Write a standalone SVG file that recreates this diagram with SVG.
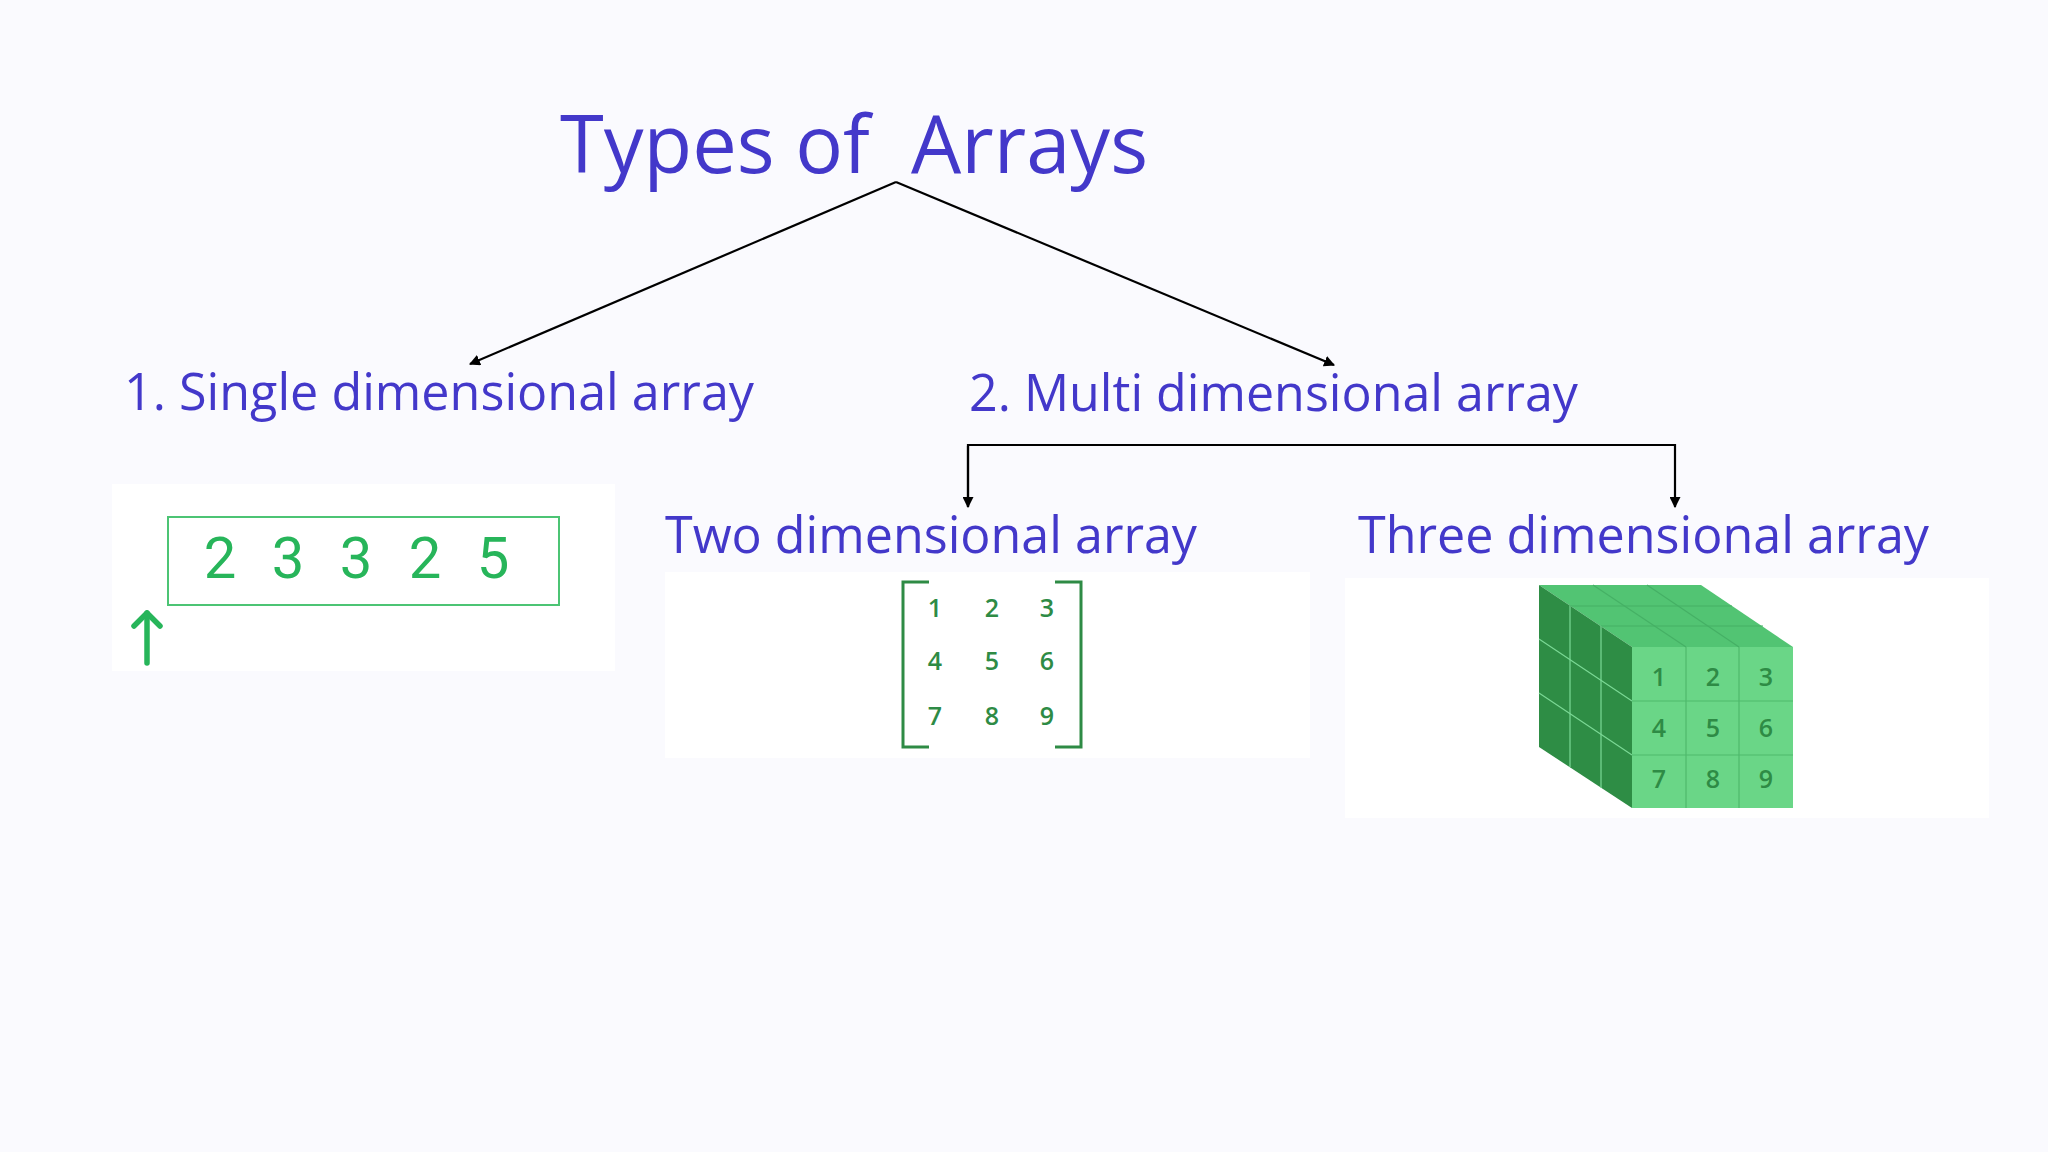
<svg xmlns="http://www.w3.org/2000/svg" width="2048" height="1152" viewBox="0 0 2048 1152">
  <defs>
    <marker id="arr" viewBox="0 0 10 10" refX="9" refY="5" markerWidth="5" markerHeight="5" orient="auto" markerUnits="strokeWidth">
      <path d="M0,0 L10,5 L0,10 z" fill="#000"/>
    </marker>
    <style>
      .h { font-family: "Open Sans", "Noto Sans", sans-serif; fill: #4338CA; }
      .conn { fill: none; stroke: #000; stroke-width: 2.2; }
      .panel { fill: #ffffff; }
      .d1 { font-family: Roboto, "Liberation Sans", sans-serif; font-size: 58px; fill: #27B55A; text-anchor: middle; }
      .d2 { font-family: "Open Sans", "Noto Sans", sans-serif; font-size: 25px; font-weight: 600; fill: #2E8B45; text-anchor: middle; }
      .grid { stroke-width: 1.2; fill: none; }
    </style>
  </defs>
  <rect width="2048" height="1152" fill="#FAFAFE"/>

  <g id="title">
    <text class="h" x="560" y="173" font-size="80" xml:space="preserve" textLength="588" lengthAdjust="spacingAndGlyphs">Types of  Arrays</text>
  </g>

  <g id="connectors">
    <line class="conn" x1="896" y1="182" x2="470" y2="364" marker-end="url(#arr)"/>
    <line class="conn" x1="896" y1="182" x2="1334" y2="365" marker-end="url(#arr)"/>
    <polyline class="conn" points="968,507 968,445 1675,445 1675,507" marker-end="url(#arr)"/>
    <line class="conn" x1="968" y1="446" x2="968" y2="507" marker-end="url(#arr)"/>
  </g>

  <g id="single">
    <text class="h" x="124" y="410" font-size="52" textLength="630" lengthAdjust="spacingAndGlyphs">1. Single dimensional array</text>
    <rect class="panel" x="112" y="484" width="503" height="187"/>
    <rect x="168" y="517" width="391" height="88" fill="none" stroke="#4CC474" stroke-width="2"/>
    <text class="d1" x="220" y="578">2</text>
    <text class="d1" x="288" y="578">3</text>
    <text class="d1" x="356" y="578">3</text>
    <text class="d1" x="425" y="578">2</text>
    <text class="d1" x="493" y="578">5</text>
    <g stroke="#27B55A" stroke-width="5.5" stroke-linecap="round" stroke-linejoin="round" fill="none">
      <line x1="147" y1="663" x2="147" y2="613"/>
      <polyline points="134,626 147,613 160,626"/>
    </g>
  </g>

  <g id="multi">
    <text class="h" x="969" y="411" font-size="52" textLength="609" lengthAdjust="spacingAndGlyphs">2. Multi dimensional array</text>
  </g>

  <g id="two">
    <text class="h" x="665" y="553" font-size="52" textLength="532" lengthAdjust="spacingAndGlyphs">Two dimensional array</text>
    <rect class="panel" x="665" y="572" width="645" height="186"/>
    <g stroke="#2E8B45" stroke-width="3" fill="none">
      <polyline points="929,582 903,582 903,747 929,747"/>
      <polyline points="1055,582 1081,582 1081,747 1055,747"/>
    </g>
    <text class="d2" x="935" y="617">1</text>
    <text class="d2" x="992" y="617">2</text>
    <text class="d2" x="1047" y="617">3</text>
    <text class="d2" x="935" y="670">4</text>
    <text class="d2" x="992" y="670">5</text>
    <text class="d2" x="1047" y="670">6</text>
    <text class="d2" x="935" y="725">7</text>
    <text class="d2" x="992" y="725">8</text>
    <text class="d2" x="1047" y="725">9</text>
  </g>

  <g id="three">
    <text class="h" x="1358" y="553" font-size="52" textLength="571" lengthAdjust="spacingAndGlyphs">Three dimensional array</text>
    <rect class="panel" x="1345" y="578" width="644" height="240"/>
    <polygon points="1539,585 1701,585 1793,647 1632,647" fill="#52C473"/>
    <polygon points="1539,585 1632,647 1632,808 1539,747" fill="#2E8D45"/>
    <rect x="1632" y="647" width="161" height="161" fill="#6AD687"/>
    <g class="grid" stroke="#7BD996">
      <line x1="1570" y1="606" x2="1570" y2="767"/>
      <line x1="1601" y1="626" x2="1601" y2="788"/>
      <line x1="1539" y1="639" x2="1632" y2="701"/>
      <line x1="1539" y1="693" x2="1632" y2="755"/>
    </g>
    <g class="grid" stroke="#45B065">
      <line x1="1593" y1="585" x2="1686" y2="647"/>
      <line x1="1647" y1="585" x2="1739" y2="647"/>
      <line x1="1570" y1="606" x2="1732" y2="606"/>
      <line x1="1601" y1="626" x2="1763" y2="626"/>
    </g>
    <g class="grid" stroke="#4FB96C">
      <line x1="1686" y1="647" x2="1686" y2="808"/>
      <line x1="1739" y1="647" x2="1739" y2="808"/>
      <line x1="1632" y1="701" x2="1793" y2="701"/>
      <line x1="1632" y1="755" x2="1793" y2="755"/>
    </g>
    <text class="d2" x="1659" y="686">1</text>
    <text class="d2" x="1713" y="686">2</text>
    <text class="d2" x="1766" y="686">3</text>
    <text class="d2" x="1659" y="737">4</text>
    <text class="d2" x="1713" y="737">5</text>
    <text class="d2" x="1766" y="737">6</text>
    <text class="d2" x="1659" y="788">7</text>
    <text class="d2" x="1713" y="788">8</text>
    <text class="d2" x="1766" y="788">9</text>
  </g>
</svg>
